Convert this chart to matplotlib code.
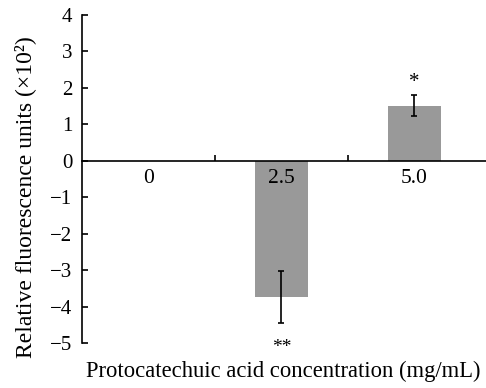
import matplotlib
matplotlib.use("Agg")
import matplotlib.pyplot as plt

categories = ["0", "2.5", "5.0"]
values = [0.0, -3.74, 1.51]
errors = [0.0, 0.72, 0.29]
marks = ["", "**", "*"]
yticks = [-5, -4, -3, -2, -1, 0, 1, 2, 3, 4]

plt.rcParams['font.family'] = ['Liberation Serif', 'DejaVu Serif']

fig = plt.figure(figsize=(4.86, 3.88), dpi=100)
ax = fig.add_axes([82/486, 45/388, 1 - 82/486, 328/388])

x = list(range(len(categories)))
ax.bar(x, values, width=0.4, color="#999999", zorder=1)
for xi, v, e in zip(x, values, errors):
    if e > 0:
        ax.errorbar(xi, v, yerr=e, fmt="none", ecolor="black", elinewidth=1.2,
                    capsize=2.5, capthick=1.2, zorder=3)
for xi, v, e, m in zip(x, values, errors, marks):
    if not m:
        continue
    if v >= 0:
        ax.annotate(m, (xi, v + e), xytext=(0, 2), textcoords="offset points",
                    ha="center", va="bottom", fontsize=15)
    else:
        ax.annotate(m, (xi, v - e), xytext=(0, -11), textcoords="offset points",
                    ha="center", va="top", fontsize=14)

ax.set_xlim(-0.5, 2.54)
ax.set_ylim(-5, 4)
ax.set_yticks(yticks)
ax.set_yticklabels([("\u2212" + str(-t)) if t < 0 else str(t) for t in yticks])

ax.spines['top'].set_visible(False)
ax.spines['right'].set_visible(False)
ax.spines['bottom'].set_position(('data', 0))
ax.spines['left'].set_linewidth(1.2)
ax.spines['bottom'].set_linewidth(1.2)

ax.set_xticks([0.5, 1.5])
ax.set_xticklabels([])
ax.set_xticks(x, minor=True)
ax.set_xticklabels(categories, minor=True)
ax.tick_params(axis='x', which='major', direction='in', length=4, width=1.2)
ax.tick_params(axis='x', which='minor', length=0, pad=6, labelsize=15.5)
ax.tick_params(axis='y', direction='in', length=4, width=1.2, labelsize=15, pad=7)

fig.text(0.5 * (86 + 480) / 486, (388 - 377) / 388, "Protocatechuic acid concentration (mg/mL)",
         ha="center", va="baseline", fontsize=16.3)
ax.set_ylabel("Relative fluorescence units (\u00d710\u00b2)", fontsize=17, va="center")
ax.yaxis.set_label_coords((25 - 82) / 404, (388 - 45 - 197) / 328)

fig.savefig("out.png", dpi=100)
